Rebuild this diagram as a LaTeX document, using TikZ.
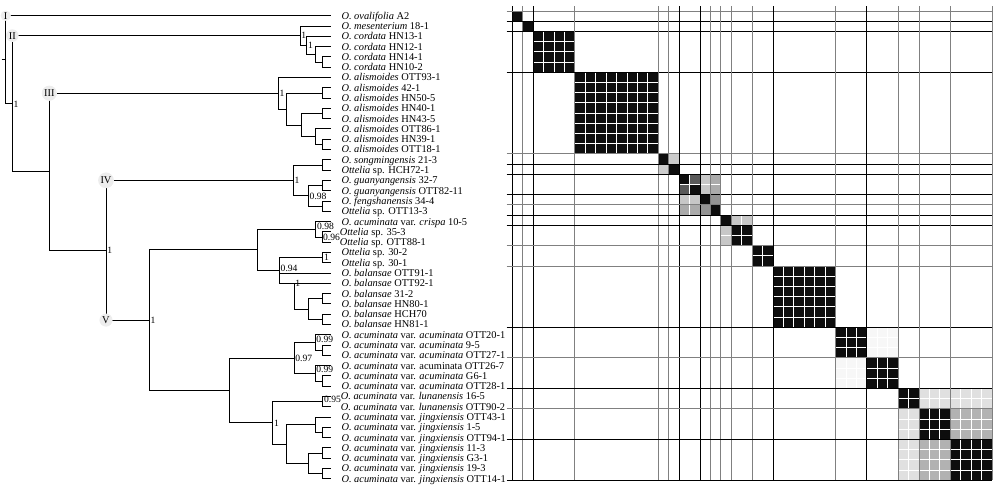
\documentclass[tikz,border=0pt]{standalone}
\usepackage{fontspec}
\setmainfont{Liberation Serif}
\newcommand{\acum}[1]{\textit{O. acuminata} var. \textit{#1}}
\newcommand{\blk}[5]{%
  \foreach \r in {#1,...,#2}{\foreach \c in {#3,...,#4}{%
    \fill[#5] (512.3+\c*10.43+0.5, 11+\r*10.2+0.5) rectangle ++(9.43,9.2);}}}
\begin{document}
\begin{tikzpicture}[x=1pt, y=-1pt,
    branch/.style={black, line width=0.8pt},
    taxon/.style={anchor=base west, inner sep=0pt, font=\fontsize{10.4}{12}\selectfont},
    supp/.style={anchor=base west, inner sep=0pt, font=\fontsize{9.6}{11}\selectfont},
    clade/.style={circle, fill=black!7, inner sep=1pt, font=\fontsize{10.4}{12}\selectfont},
    gridline/.style={line width=0.9pt}]
                \useasboundingbox (0,0) rectangle (1000,490);
                \foreach \i in {0,...,45}
                    \coordinate (t\i) at (331, 15.7+10.29*\i);
                \coordinate (stem) at (1.5,59.7);
                \coordinate (root) at (5.7,59.7);
                \coordinate (nA) at (12.3,103.7);
                \coordinate (nII) at (300,35.6);
                \coordinate (cor1) at (306.7,45.3);
                \coordinate (cor2) at (315,54.3);
                \coordinate (cor3) at (322.7,62.0);
                \coordinate (nB2) at (49.3,171.7);
                \coordinate (nIII) at (278.3,93.2);
                \coordinate (al1) at (286,109.0);
                \coordinate (al2) at (322.7,92.9);
                \coordinate (al3) at (301.7,125.0);
                \coordinate (al4) at (322.7,113.5);
                \coordinate (al5) at (315,136.6);
                \coordinate (al6) at (322.7,144.3);
                \coordinate (nIVV) at (106,250.2);
                \coordinate (nIV) at (293.3,180.3);
                \coordinate (iv1) at (322.7,164.9);
                \coordinate (iv2) at (308.3,195.8);
                \coordinate (iv3) at (322.7,185.5);
                \coordinate (iv4) at (322.7,206.1);
                \coordinate (nV) at (149.3,320.1);
                \coordinate (nV1) at (257.5,249.8);
                \coordinate (cr1) at (315.7,229.2);
                \coordinate (cr2) at (322.7,236.9);
                \coordinate (n094) at (279.3,270.4);
                \coordinate (n30) at (322.7,257.5);
                \coordinate (ba1) at (294,283.2);
                \coordinate (ba2) at (308.3,309.0);
                \coordinate (ba3) at (322.7,298.7);
                \coordinate (ba4) at (322.7,319.3);
                \coordinate (nV2) at (229,390.4);
                \coordinate (n097) at (294,357.9);
                \coordinate (ac1) at (315,342.4);
                \coordinate (ac1b) at (322.7,350.1);
                \coordinate (ac2) at (315,373.3);
                \coordinate (ac2b) at (322.7,381.0);
                \coordinate (nLJ) at (272.7,422.8);
                \coordinate (lu) at (322.7,401.6);
                \coordinate (nJ) at (286,444.0);
                \coordinate (j1) at (315,424.7);
                \coordinate (j1b) at (322.7,432.4);
                \coordinate (j2) at (308.3,463.3);
                \coordinate (j2a) at (322.7,453.0);
                \coordinate (j2b) at (322.7,473.6);

                \draw[branch] (stem) -- (root);
                \foreach \p/\c in {root/t0, root/nA, nA/nII, nA/nB2, nII/t1, nII/cor1,
                        cor1/t2, cor1/cor2, cor2/t3, cor2/cor3, cor3/t4, cor3/t5,
                        nB2/nIII, nB2/nIVV, nIII/t6, nIII/al1, al1/al2, al1/al3,
                        al2/t7, al2/t8, al3/al4, al3/al5, al4/t9, al4/t10,
                        al5/t11, al5/al6, al6/t12, al6/t13,
                        nIVV/nIV, nIVV/nV, nIV/iv1, nIV/iv2, iv1/t14, iv1/t15,
                        iv2/iv3, iv2/iv4, iv3/t16, iv3/t17, iv4/t18, iv4/t19,
                        nV/nV1, nV/nV2, nV1/cr1, nV1/n094, cr1/t20, cr1/cr2,
                        cr2/t21, cr2/t22, n094/n30, n094/t25, n094/ba1,
                        n30/t23, n30/t24, ba1/t26, ba1/ba2, ba2/ba3, ba2/ba4,
                        ba3/t27, ba3/t28, ba4/t29, ba4/t30,
                        nV2/n097, nV2/nLJ, n097/ac1, n097/ac2,
                        ac1/t31, ac1/ac1b, ac1b/t32, ac1b/t33,
                        ac2/t34, ac2/ac2b, ac2b/t35, ac2b/t36,
                        nLJ/lu, nLJ/nJ, lu/t37, lu/t38, nJ/j1, nJ/j2,
                        j1/t39, j1/j1b, j1b/t40, j1b/t41,
                        j2/j2a, j2/j2b, j2a/t42, j2a/t43, j2b/t44, j2b/t45}
                    \draw[branch] (\p) |- (\c);

                \foreach \n/\s/\x/\d in {nA/1/1.2/0, nII/1/1.2/0, cor1/1/1.2/0, nIII/1/1.2/0,
                        nIV/1/1.2/0, iv2/0.98/1.2/0, nIVV/1/1.2/0, nV/1/1.2/0,
                        cr1/0.98/1.2/-3.5, cr2/0.96/0.2/0.5, n30/1/1.2/0, n094/0.94/1.2/-2,
                        ba1/1/1.2/0, n097/0.97/1.2/0, ac1/0.99/1.2/-3, ac2/0.99/1.2/-4,
                        lu/0.95/1.2/-2, nLJ/1/1.2/0}
                    \node[supp] (s\n) at ([shift={(\x,3.3+\d)}]\n) {\s};

                \node[clade] (cI) at (root |- t0) {I};
                \node[clade] (cII) at (nA |- nII) {II};
                \node[clade] (cIII) at (nB2 |- nIII) {III};
                \node[clade] (cIV) at (nIVV |- nIV) {IV};
                \node[clade] (cV) at (nIVV |- nV) {V};

                \node[taxon] (l0) at ([shift={(10.3,3.5)}]t0) {\textit{O. ovalifolia} A2};
                \node[taxon] (l1) at ([shift={(10.3,3.5)}]t1) {\textit{O. mesenterium} 18-1};
                \node[taxon] (l2) at ([shift={(10.3,3.5)}]t2) {\textit{O. cordata} HN13-1};
                \node[taxon] (l3) at ([shift={(10.3,3.5)}]t3) {\textit{O. cordata} HN12-1};
                \node[taxon] (l4) at ([shift={(10.3,3.5)}]t4) {\textit{O. cordata} HN14-1};
                \node[taxon] (l5) at ([shift={(10.3,3.5)}]t5) {\textit{O. cordata} HN10-2};
                \node[taxon] (l6) at ([shift={(10.3,3.5)}]t6) {\textit{O. alismoides} OTT93-1};
                \node[taxon] (l7) at ([shift={(10.3,3.5)}]t7) {\textit{O. alismoides} 42-1};
                \node[taxon] (l8) at ([shift={(10.3,3.5)}]t8) {\textit{O. alismoides} HN50-5};
                \node[taxon] (l9) at ([shift={(10.3,3.5)}]t9) {\textit{O. alismoides} HN40-1};
                \node[taxon] (l10) at ([shift={(10.3,3.5)}]t10) {\textit{O. alismoides} HN43-5};
                \node[taxon] (l11) at ([shift={(10.3,3.5)}]t11) {\textit{O. alismoides} OTT86-1};
                \node[taxon] (l12) at ([shift={(10.3,3.5)}]t12) {\textit{O. alismoides} HN39-1};
                \node[taxon] (l13) at ([shift={(10.3,3.5)}]t13) {\textit{O. alismoides} OTT18-1};
                \node[taxon] (l14) at ([shift={(10.3,3.5)}]t14) {\textit{O. songmingensis} 21-3};
                \node[taxon] (l15) at ([shift={(10.3,3.5)}]t15) {\textit{Ottelia} sp. HCH72-1};
                \node[taxon] (l16) at ([shift={(10.3,3.5)}]t16) {\textit{O. guanyangensis} 32-7};
                \node[taxon] (l17) at ([shift={(10.3,3.5)}]t17) {\textit{O. guanyangensis} OTT82-11};
                \node[taxon] (l18) at ([shift={(10.3,3.5)}]t18) {\textit{O. fengshanensis} 34-4};
                \node[taxon] (l19) at ([shift={(10.3,3.5)}]t19) {\textit{Ottelia} sp. OTT13-3};
                \node[taxon] (l20) at ([shift={(10.3,3.5)}]t20) {\acum{crispa} 10-5};
                \node[taxon] (l21) at ([shift={(8.6,3.5)}]t21) {\textit{Ottelia} sp. 35-3};
                \node[taxon] (l22) at ([shift={(8.6,3.5)}]t22) {\textit{Ottelia} sp. OTT88-1};
                \node[taxon] (l23) at ([shift={(10.3,3.5)}]t23) {\textit{Ottelia} sp. 30-2};
                \node[taxon] (l24) at ([shift={(10.3,3.5)}]t24) {\textit{Ottelia} sp. 30-1};
                \node[taxon] (l25) at ([shift={(10.3,3.5)}]t25) {\textit{O. balansae} OTT91-1};
                \node[taxon] (l26) at ([shift={(10.3,3.5)}]t26) {\textit{O. balansae} OTT92-1};
                \node[taxon] (l27) at ([shift={(10.3,3.5)}]t27) {\textit{O. balansae} 31-2};
                \node[taxon] (l28) at ([shift={(10.3,3.5)}]t28) {\textit{O. balansae} HN80-1};
                \node[taxon] (l29) at ([shift={(10.3,3.5)}]t29) {\textit{O. balansae} HCH70};
                \node[taxon] (l30) at ([shift={(10.3,3.5)}]t30) {\textit{O. balansae} HN81-1};
                \node[taxon] (l31) at ([shift={(10.3,3.5)}]t31) {\acum{acuminata} OTT20-1};
                \node[taxon] (l32) at ([shift={(10.3,3.5)}]t32) {\acum{acuminata} 9-5};
                \node[taxon] (l33) at ([shift={(10.3,3.5)}]t33) {\acum{acuminata} OTT27-1};
                \node[taxon] (l34) at ([shift={(10.3,3.5)}]t34) {\textit{O. acuminata} var. acuminata OTT26-7};
                \node[taxon] (l35) at ([shift={(10.3,3.5)}]t35) {\acum{acuminata} G6-1};
                \node[taxon] (l36) at ([shift={(10.3,3.5)}]t36) {\acum{acuminata} OTT28-1};
                \node[taxon] (l37) at ([shift={(9.6,3.5)}]t37) {\acum{lunanensis} 16-5};
                \node[taxon] (l38) at ([shift={(9.6,3.5)}]t38) {\acum{lunanensis} OTT90-2};
                \node[taxon] (l39) at ([shift={(10.3,3.5)}]t39) {\acum{jingxiensis} OTT43-1};
                \node[taxon] (l40) at ([shift={(10.3,3.5)}]t40) {\acum{jingxiensis} 1-5};
                \node[taxon] (l41) at ([shift={(10.3,3.5)}]t41) {\acum{jingxiensis} OTT94-1};
                \node[taxon] (l42) at ([shift={(10.3,3.5)}]t42) {\acum{jingxiensis} 11-3};
                \node[taxon] (l43) at ([shift={(10.3,3.5)}]t43) {\acum{jingxiensis} G3-1};
                \node[taxon] (l44) at ([shift={(10.3,3.5)}]t44) {\acum{jingxiensis} 19-3};
                \node[taxon] (l45) at ([shift={(10.3,3.5)}]t45) {\acum{jingxiensis} OTT14-1};

                \blk{14}{14}{15}{15}{black!20} \blk{15}{15}{14}{14}{black!20}
                \blk{16}{16}{17}{17}{black!65} \blk{17}{17}{16}{16}{black!65}
                \blk{16}{17}{18}{18}{black!22} \blk{18}{18}{16}{17}{black!22}
                \blk{16}{17}{19}{19}{black!33} \blk{19}{19}{16}{17}{black!33}
                \blk{18}{18}{19}{19}{black!42} \blk{19}{19}{18}{18}{black!42}
                \blk{20}{20}{21}{22}{black!22} \blk{21}{22}{20}{20}{black!22}
                \blk{31}{33}{34}{36}{black!3} \blk{34}{36}{31}{33}{black!3}
                \blk{37}{38}{39}{45}{black!12} \blk{39}{45}{37}{38}{black!12}
                \blk{39}{41}{42}{45}{black!30} \blk{42}{45}{39}{41}{black!30}
                \foreach \a/\b in {0/0, 1/1, 2/5, 6/13, 14/14, 15/15, 16/16, 17/17, 18/18,
                        19/19, 20/20, 21/22, 23/24, 25/30, 31/33, 34/36, 37/38, 39/41, 42/45}
                    {\blk{\a}{\b}{\a}{\b}{black!95}}

                \foreach \k/\cv/\ch in {0/black/black!50, 1/black!50/black, 2/black/black,
                        6/black!50/black, 14/black!50/black!50, 15/black!50/black,
                        16/black/black, 18/black/black, 19/black!50/black!50,
                        20/black!50/black, 21/black!50/black, 23/black!50/black!50,
                        25/black/black!50, 31/black!50/black, 34/black/black!50,
                        37/black!50/black, 39/black!50/black!50, 42/black!50/black,
                        46/black!50/black} {
                    \draw[gridline, \cv] (512.3+\k*10.43, 6) -- (512.3+\k*10.43, 480);
                    \draw[gridline, \ch] (506.7, 11+\k*10.2) -- (992.1, 11+\k*10.2);
                }
            \end{tikzpicture}
\end{document}
